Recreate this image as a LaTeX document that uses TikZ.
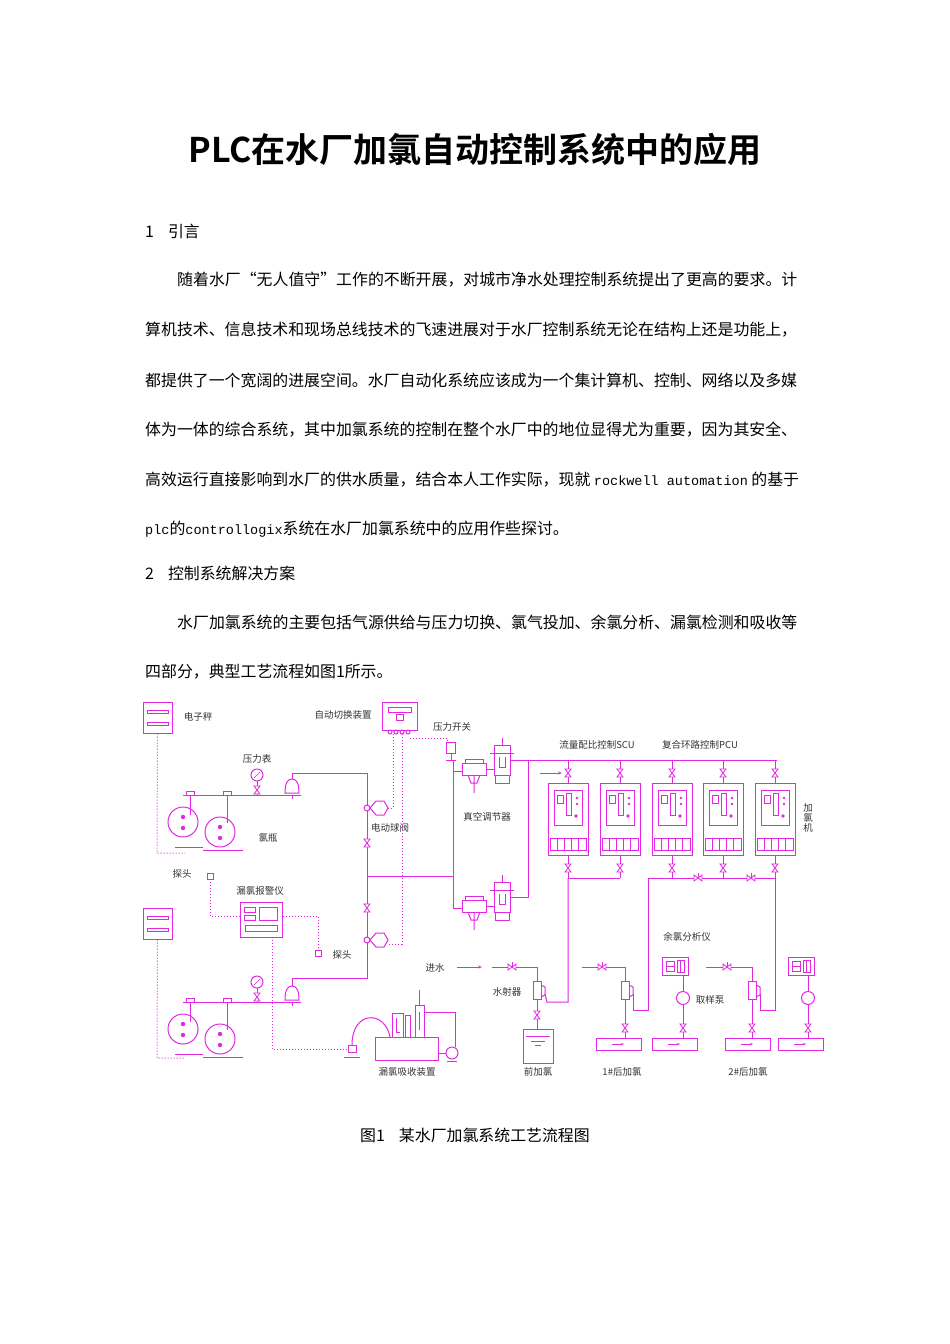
\documentclass[tikz,border=0pt]{standalone}
\usepackage{fontspec}
\setmainfont{Noto Sans CJK SC}
\newfontfamily\cjkb{Noto Sans CJK SC Bold}
\newfontfamily\monof{Liberation Mono}
\usetikzlibrary{arrows.meta}
\definecolor{mag}{RGB}{226,40,226}
\tikzset{
  body/.style={anchor=west,inner sep=0,font=\fontsize{15.9}{16}\selectfont},
  lbl/.style={inner sep=0,font=\fontsize{9.5}{10}\selectfont,text=black!80},
  pipe/.style={draw=mag,line width=1pt},
  sig/.style={draw=mag,line width=1pt,dotted},
  vv/.pic={\draw[mag,line width=.8pt,fill=white] (-3,-4)--(3,-4)--(-3,4)--(3,4)--cycle;},
  hv/.pic={\draw[mag,line width=.8pt,fill=white] (-4,-3)--(-4,3)--(4,-3)--(4,3)--cycle; \draw[mag,line width=.8pt] (0,0)--(0,-5);},
  cyls/.pic={
    \draw[pipe] (0,0)--(107,0);
    \draw[pipe] (7,0)--(7,15) (3,0)--(3,-4)--(11,-4)--(11,0);
    \draw[pipe] (44,0)--(44,22) (40,0)--(40,-4)--(48,-4)--(48,0);
    \draw[pipe,fill=white] (0,27) circle (15);
    \draw[pipe,fill=white] (37,37) circle (15);
    \draw[pipe] (7,15)--(7,20) (44,22)--(44,28);
    \fill[mag] (0,22) circle (2.2) (0,33) circle (2.2) (37,32) circle (2.2) (37,43) circle (2.2);
    \draw[pipe] (20,55)--(60,55) (-8,52)--(20,52);},
  gauge/.pic={\draw[pipe,fill=white] (0,0) circle (6); \draw[mag,line width=.6pt] (-3,3)--(3,-3); \draw[pipe] (0,6)--(0,20);},
  bell/.pic={\draw[pipe,fill=white] (-7,7) .. controls (-7,-2) and (-5,-7) .. (0,-7) .. controls (5,-7) and (7,-2) .. (7,7) -- cycle; \draw[pipe] (-9,9)--(9,9) (0,9)--(0,13);},
  reg/.pic={
    \draw[pipe,fill=white] (0,0) rectangle (24,12); \draw[pipe] (3,0)--(3,-4)--(21,-4)--(21,0);
    \draw[pipe] (12,12)--(12,30) (6,12)--(9,20)--(15,20)--(18,12);
    \draw[pipe,fill=white] (32,-18) rectangle (48,12); \draw[pipe] (40,-18)--(40,-25);
    \draw[pipe] (28,-10)--(52,-10); \draw[pipe] (24,6)--(32,6) (33,12)--(33,20)--(47,20)--(47,12);
    \draw[pipe] (37,-6)--(37,4)--(43,4)--(43,-6);},
  chl/.pic={
    \draw[pipe] (0,0) rectangle (40,72);
    \draw[pipe] (6,7) rectangle (34,42);
    \draw[pipe] (9,12) rectangle (15,20) (18,10) rectangle (23,32);
    \fill[mag] (29,15) circle (1.4) (29,21) circle (1.4) (28,33) circle (1.8);
    \draw[pipe] (2,55) rectangle (38,67);
    \foreach \k in {9,16,23,30} \draw[pipe] (\k,55)--(\k,67);},
  inj/.pic={\draw[pipe,fill=white] (-4,-9) rectangle (4,9); \draw[pipe] (4,-5)--(8,-3)--(8,5)--(4,7);},
  tube/.pic={\draw[pipe] (0,0) rectangle (45,12); \draw[pipe,-{Stealth[length=3pt]}] (16,6)--(28,6);},
  ana/.pic={\draw[pipe] (0,0) rectangle (26,18); \draw[pipe] (4,4) rectangle (12,14) (15,3) rectangle (22,15) (4,9)--(12,9) (18,3)--(18,15);},
  pump/.pic={\draw[pipe,fill=white] (0,0) circle (6.5);},
  probe/.pic={\draw[pipe,fill=white] (-3,-3) rectangle (3,3);},
}
\begin{document}
\begin{tikzpicture}[x=1pt,y=-1pt]
\useasboundingbox[fill=white] (0,0) rectangle (950,1344);
% ---------- text ----------
\node[inner sep=0,font=\cjkb\fontsize{34}{36}\selectfont] (title) at (475,150) {PLC在水厂加氯自动控制系统中的应用};
\node[body] (h1) at (145,231) {1\hspace{14pt}引言};
\node[body] (p1) at (177,280) {随着水厂“无人值守”工作的不断开展，对城市净水处理控制系统提出了更高的要求。计};
\node[body] (p2) at (145,330) {算机技术、信息技术和现场总线技术的飞速进展对于水厂控制系统无论在结构上还是功能上，};
\node[body] (p3) at (145,380) {都提供了一个宽阔的进展空间。水厂自动化系统应该成为一个集计算机、控制、网络以及多媒};
\node[body] (p4) at (145,430) {体为一体的综合系统，其中加氯系统的控制在整个水厂中的地位显得尤为重要，因为其安全、};
\node[body] (p5) at (145,480) {高效运行直接影响到水厂的供水质量，结合本人工作实际，现就 {\monof\fontsize{13.5}{14}\selectfont rockwell automation} 的基于};
\node[body] (p6) at (145,529) {{\monof\fontsize{13.5}{14}\selectfont plc}的{\monof\fontsize{13.5}{14}\selectfont controllogix}系统在水厂加氯系统中的应用作些探讨。};
\node[body] (h2) at (145,573) {2\hspace{14pt}控制系统解决方案};
\node[body] (p7) at (177,622) {水厂加氯系统的主要包括气源供给与压力切换、氯气投加、余氯分析、漏氯检测和吸收等};
\node[body] (p8) at (145,672) {四部分，典型工艺流程如图1所示。};
\node[body,anchor=center] (cap) at (475,1135) {图1\hspace{14pt}某水厂加氯系统工艺流程图};
% ---------- diagram: left side ----------
\node[pipe,minimum width=29pt,minimum height=31pt,inner sep=0] (scale1) at (157.5,717.5) {};
\draw[pipe] (147,710) rectangle (168,713) (147,722) rectangle (168,725);
\node[pipe,minimum width=29pt,minimum height=31pt,inner sep=0] (scale2) at (157.5,923.5) {};
\draw[pipe] (147,916) rectangle (168,919) (147,928) rectangle (168,931);
\node[lbl] (l1) at (198,717) {电子秤};
\draw[sig] (scale1.south) -- (157,853) -- (185,853);
\draw[sig] (scale2.south) -- (157,1058) -- (185,1058);
\pic at (183,795) {cyls};
\pic at (183,1002) {cyls};
\pic at (257,775) {gauge};
\pic at (257,982) {gauge};
\pic at (257,790) {vv};
\pic at (257,997) {vv};
\node[lbl] (l2) at (257,759) {压力表};
\node[lbl] (l3) at (268,838) {氯瓶};
\pic at (292,786) {bell};
\pic at (292,993) {bell};
\coordinate (b1) at (292,779);
\coordinate (b2) at (292,986);
\draw[pipe] (b1) -- (292,773) -- (367,773) -- (367,978) -- (292,978) -- (b2);
\draw[pipe] (367,876) -- (453,876);
% motor ball valves
\foreach \yy in {808,940}{
  \draw[pipe,fill=white] (367,\yy) circle (3);
  \draw[pipe,fill=white] (370,\yy)--(376,\yy-7)--(384,\yy-7)--(388,\yy)--(384,\yy+7)--(376,\yy+7)--cycle;
}
\pic at (367,843) {vv};
\pic at (367,908) {vv};
\node[lbl] (l4) at (390,828) {电动球阀};
% switch device
\node[pipe,minimum width=35pt,minimum height=28pt,inner sep=0] (sw) at (399.5,716) {};
\draw[pipe] (388,707) rectangle (411,712) (396,714) rectangle (403,720);
\foreach \xx in {390,396,402,408} \draw[pipe] (\xx,732) circle (2);
\node[lbl] (l5) at (343,715) {自动切换装置};
\draw[sig] (393,734) -- (393,808) -- (388,808);
\draw[sig] (402,734) -- (402,944) -- (388,944);
\draw[sig] (410,738) -- (447,738) -- (447,742);
% pressure switch
\node[pipe,fill=white,minimum width=9pt,minimum height=11pt,inner sep=0] (ps) at (451,748) {};
\draw[pipe] (451,754)--(451,760) (446,760)--(456,760);
\node[lbl] (l6) at (452,727) {压力开关};
% probes, alarm
\pic at (210,876) {probe};
\node[lbl] (l7) at (182,874) {探头};
\node[pipe,minimum width=42pt,minimum height=35pt,inner sep=0] (alarm) at (261,919.5) {};
\draw[pipe] (244,907) rectangle (255,912) (244,915) rectangle (255,920) (259,907) rectangle (277,920) (245,925) rectangle (277,931);
\node[lbl] (l8) at (260,891) {漏氯报警仪};
\draw[sig] (210,879) -- (210,916) -- (alarm.west |- 0,916);
\draw[sig] (alarm.east |- 0,916) -- (318,916) -- (318,950);
\pic at (318,953) {probe};
\node[lbl] (l9) at (342,955) {探头};
% absorber
\node[pipe,minimum width=63pt,minimum height=23pt,inner sep=0] (abs) at (406.5,1048.5) {};
\draw[pipe] (392,1037) -- (392,1013) -- (403,1013) -- (403,1037) (396,1018)--(396,1032)--(400,1032);
\draw[pipe] (405,1037) -- (405,1015) -- (410,1015)--(410,1037);
\draw[pipe] (415,1037) -- (415,1005) -- (424,1005) -- (424,1037) (419,1012)--(419,1030) (419,1005)--(419,990);
\draw[pipe] (424,1012) -- (455,1012) -- (455,1047);
\draw[pipe,fill=white] (452,1053) circle (6);
\draw[pipe] (438,1053) -- (446,1053) (447,1061)--(457,1061);
\draw[pipe] (352,1045) .. controls (352,1010) and (385,1010) .. (390,1037);
\draw[pipe] (348,1045) rectangle (356,1052) (344,1057) -- (360,1057);
\draw[sig] (272,937) -- (272,1049) -- (348,1049);
\node[lbl] (l10) at (407,1072) {漏氯吸收装置};
% ---------- right side ----------
\draw[pipe] (453,760) -- (453,908) -- (462,908);
\draw[pipe] (453,771) -- (462,771);
\pic at (462,763) {reg};
\pic at (462,900) {reg};
\node[lbl] (l11) at (487,817) {真空调节器};
\draw[pipe] (511,760) -- (777,760);
\draw[pipe] (511,897) -- (528,897) -- (528,760);
\draw[pipe,-{Stealth[length=4pt]}] (540,773) -- (562,773);
\node[lbl] (l12) at (597,745) {流量配比控制SCU};
\node[lbl] (l13) at (700,745) {复合环路控制PCU};
\foreach \cx/\nm in {568/c1,620/c2,672/c3,723/c4,775/c5}{
  \draw[pipe] (\cx,760) -- (\cx,783) (\cx,855) -- (\cx,878);
  \pic at (\cx,773) {vv};
  \pic at (\cx,868) {vv};
  \pic at (\cx-20,783) {chl};
}
\node[lbl,align=center] (l14) at (808,818) {加\\氯\\机};
\draw[pipe] (568,878) -- (620,878);
\draw[pipe] (648,878) -- (775,878);
\pic at (698,878) {hv};
\pic at (751,878) {hv};
% injector 1
\node[lbl] (l15) at (435,968) {进水};
\draw[pipe,-{Stealth[length=4pt]}] (457,967) -- (482,967);
\draw[pipe] (492,967) -- (537,967) -- (537,981);
\pic at (512,967) {hv};
\pic at (537,990) {inj};
\node[lbl] (l16) at (507,992) {水射器};
\draw[pipe] (545,994) -- (547,1002) -- (568,1002) -- (568,878);
\draw[pipe] (537,999) -- (537,1029);
\pic at (537,1015) {vv};
\draw[pipe] (523,1029) rectangle (553,1063);
\draw[pipe] (526,1036)--(550,1036) (531,1041)--(545,1041) (535,1045)--(541,1045);
\node[lbl] (l17) at (538,1072) {前加氯};
% injector 2
\draw[pipe] (582,967) -- (625,967) -- (625,981);
\pic at (602,967) {hv};
\pic at (625,990) {inj};
\draw[pipe] (633,994) -- (633,1010) -- (648,1010) -- (648,878);
\draw[pipe] (625,999) -- (625,1038);
\pic at (625,1028) {vv};
\pic at (596,1038) {tube};
\node[lbl] (l18) at (622,1072) {1\#后加氯};
% analyzer 1
\node[lbl] (l19) at (687,937) {余氯分析仪};
\pic at (662,957) {ana};
\draw[pipe] (683,975) -- (683,1038);
\pic at (683,998) {pump};
\pic at (683,1028) {vv};
\pic at (652,1038) {tube};
\node[lbl] (l20) at (710,1000) {取样泵};
% injector 3
\draw[pipe] (706,967) -- (752,967) -- (752,981);
\pic at (727,967) {hv};
\pic at (752,990) {inj};
\draw[pipe] (760,994) -- (760,1010) -- (775,1010) -- (775,878);
\draw[pipe] (752,999) -- (752,1038);
\pic at (752,1028) {vv};
\pic at (725,1038) {tube};
\node[lbl] (l21) at (748,1072) {2\#后加氯};
% analyzer 2
\pic at (788,957) {ana};
\draw[pipe] (808,975) -- (808,1038);
\pic at (808,998) {pump};
\pic at (808,1028) {vv};
\pic at (778,1038) {tube};
\end{tikzpicture}
\end{document}
